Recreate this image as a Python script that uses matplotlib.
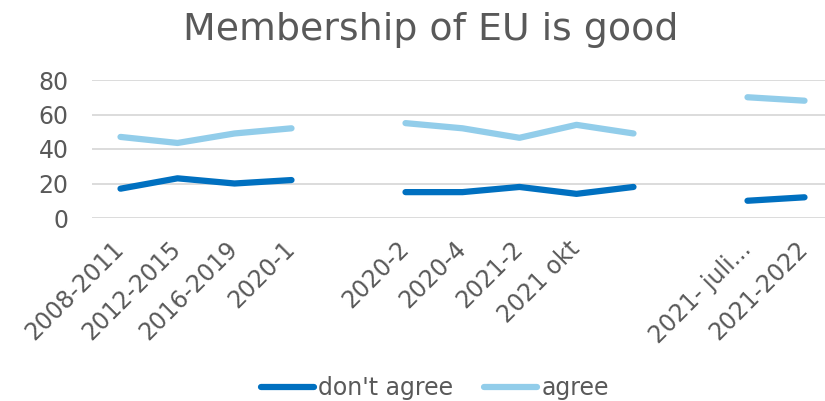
import numpy as np
import matplotlib
matplotlib.use("Agg")
import matplotlib.pyplot as plt
from matplotlib.transforms import ScaledTranslation

# Data (blank categories are gaps in the series)
categories = ["2008-2011", "2012-2015", "2016-2019", "2020-1", "",
              "2020-2", "2020-4", "2021-2", "2021 okt", "", "",
              "2021- juli...", "2021-2022"]
dont_agree = [17, 23, 20, 22, np.nan, 15, 15, 18, 14, 18, np.nan, 10, 12]
agree = [47, 43.5, 49, 52, np.nan, 55, 52, 46.5, 54, 49, np.nan, 70, 68]

grey = "#595959"
plt.rcParams["font.family"] = ["Verdana", "DejaVu Sans"]

fig = plt.figure(figsize=(8.25, 4.01), dpi=100)
ax = fig.add_axes([92 / 825, 1 - 218 / 401, 741 / 825, 138 / 401])

x = np.arange(len(categories))
ax.plot(x, dont_agree, color="#0070C0", lw=4.5, solid_capstyle="round",
        solid_joinstyle="round", label="don't agree")
ax.plot(x, agree, color="#92CDEA", lw=4.5, solid_capstyle="round",
        solid_joinstyle="round", label="agree")

ax.set_xlim(-0.5, len(categories) - 0.5)
ax.set_ylim(0, 80)
ax.set_yticks([0, 20, 40, 60, 80])
ax.yaxis.grid(True, color="#D9D9D9", lw=1.3)
ax.set_axisbelow(True)
for s in ax.spines.values():
    s.set_visible(False)

ax.set_xticks(x)
ax.set_xticklabels(categories, rotation=45, ha="right", rotation_mode="anchor")
ax.tick_params(axis="both", length=0, labelsize=17, labelcolor=grey)
ax.tick_params(axis="x", pad=13.5)
ax.tick_params(axis="y", pad=17)
shift = ScaledTranslation(-9 / 100, 0, fig.dpi_scale_trans)
for lbl in ax.get_xticklabels():
    lbl.set_transform(lbl.get_transform() + shift)

fig.text(0.522, 1 - 40 / 401, "Membership of EU is good", ha="center",
         va="baseline", fontsize=27.3, color=grey)

fig.legend(loc="center", bbox_to_anchor=(0.527, 0.032), ncol=2, frameon=False,
           fontsize=17, labelcolor=grey, handlelength=2.25, handletextpad=0.2,
           columnspacing=1.27)

fig.savefig("out.png", dpi=100)
